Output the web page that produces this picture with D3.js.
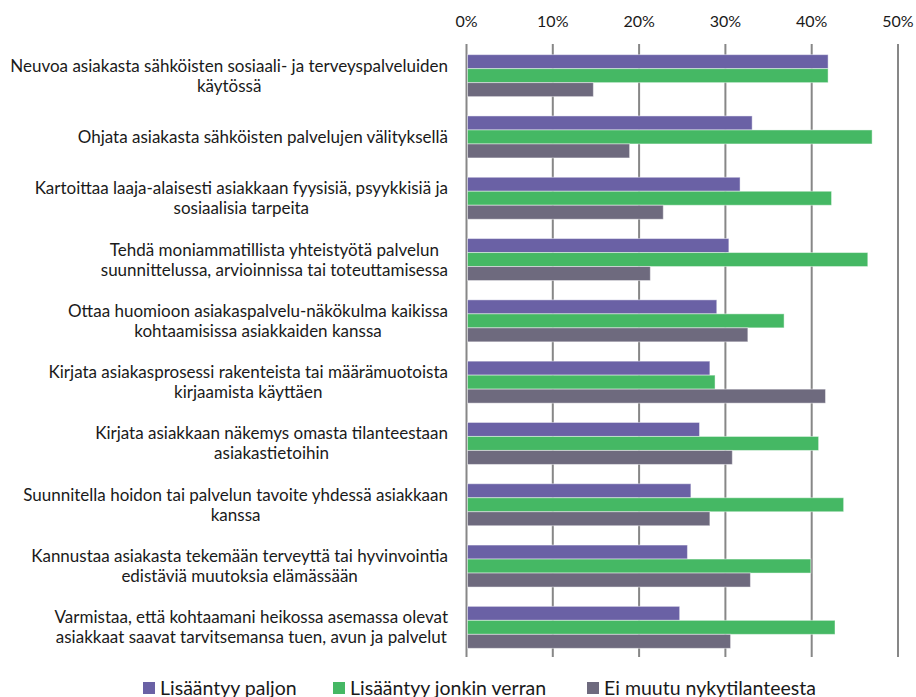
<!DOCTYPE html>
<html>
<head>
<meta charset="utf-8">
<script src="https://cdn.jsdelivr.net/npm/d3@7"></script>
<style>
  body { margin: 0; background: #fff; }
  svg { display: block; }
  text { font-family: Lato, "Open Sans", sans-serif; fill: #1a1a1a; }
</style>
</head>
<body>
<svg id="chart" width="916" height="697"></svg>
<script>
// categories (each entry = label lines)
const categories = [
  ["Neuvoa asiakasta sähköisten sosiaali- ja terveyspalveluiden", "käytössä"],
  ["Ohjata asiakasta sähköisten palvelujen välityksellä"],
  ["Kartoittaa laaja-alaisesti asiakkaan fyysisiä, psyykkisiä ja", "sosiaalisia tarpeita"],
  ["Tehdä moniammatillista yhteistyötä palvelun", "suunnittelussa, arvioinnissa tai toteuttamisessa"],
  ["Ottaa huomioon asiakaspalvelu-näkökulma kaikissa", "kohtaamisissa asiakkaiden kanssa"],
  ["Kirjata asiakasprosessi rakenteista tai määrämuotoista", "kirjaamista käyttäen"],
  ["Kirjata asiakkaan näkemys omasta tilanteestaan", "asiakastietoihin"],
  ["Suunnitella hoidon tai palvelun tavoite yhdessä asiakkaan", "kanssa"],
  ["Kannustaa asiakasta tekemään terveyttä tai hyvinvointia", "edistäviä muutoksia elämässään"],
  ["Varmistaa, että kohtaamani heikossa asemassa olevat", "asiakkaat saavat tarvitsemansa tuen, avun ja palvelut"]
];

const seriesNames = ["Lisääntyy paljon", "Lisääntyy jonkin verran", "Ei muutu nykytilanteesta"];
const seriesColors = ["#6a61a5", "#45b864", "#6e6a7e"];

// values in %
const paljon   = [41.9, 33.1, 31.7, 30.4, 29.0, 28.2, 27.0, 26.0, 25.6, 24.7];
const jonkin   = [41.9, 47.0, 42.3, 46.5, 36.8, 28.8, 40.8, 43.7, 39.9, 42.7];
const eiMuutu  = [14.7, 18.9, 22.8, 21.3, 32.6, 41.6, 30.8, 28.2, 32.9, 30.6];

const xTicks = [0, 10, 20, 30, 40, 50];

const series = [paljon, jonkin, eiMuutu];

const svg = d3.select("#chart");

const x = d3.scaleLinear().domain([0, 50]).range([466.5, 898]);

const y0 = d3.scaleBand()
  .domain(d3.range(categories.length))
  .range([45, 658])
  .paddingInner(0.315)
  .paddingOuter(0.1575);

const y1 = d3.scaleBand()
  .domain(d3.range(series.length))
  .range([0, y0.bandwidth()]);

// gridlines
svg.append("g")
  .selectAll("line")
  .data(xTicks)
  .join("line")
  .attr("x1", d => x(d)).attr("x2", d => x(d))
  .attr("y1", 44).attr("y2", 657)
  .attr("stroke", "#878787")
  .attr("stroke-width", 2);

// top tick labels
svg.append("g")
  .selectAll("text")
  .data(xTicks)
  .join("text")
  .attr("x", d => x(d))
  .attr("y", 27)
  .attr("text-anchor", "middle")
  .style("font-size", "16px")
  .text(d => d + "%");

// bars
const groups = svg.append("g")
  .selectAll("g")
  .data(categories)
  .join("g")
  .attr("transform", (d, i) => `translate(0,${y0(i)})`);

groups.selectAll("rect")
  .data((d, i) => series.map((s, k) => ({ k, v: s[i] })))
  .join("rect")
  .attr("x", x(0) + 1)
  .attr("y", d => y1(d.k))
  .attr("width", d => x(d.v) - x(0) - 1)
  .attr("height", y1.bandwidth())
  .attr("fill", d => seriesColors[d.k])
  .attr("stroke", "rgba(255,255,255,0.45)")
  .attr("stroke-width", 1);

// category labels: block right-aligned, lines centered
const labelRight = 448;
groups.each(function(lines, i) {
  const g = d3.select(this);
  const t = g.append("text")
    .attr("text-anchor", "middle")
    .style("font-size", "17px");
  const spans = t.selectAll("tspan")
    .data(lines)
    .join("tspan")
    .text(d => d);
  let maxW = 0;
  spans.each(function() { maxW = Math.max(maxW, this.getComputedTextLength()); });
  const cx = labelRight - maxW / 2;
  const mid = y0.bandwidth() / 2;
  const lh = 20;
  const top = mid - (lines.length - 1) * lh / 2 + 6;
  spans.attr("x", cx).attr("y", (d, j) => top + j * lh);
});

// legend
const legendX = [143, 333, 587];
const legend = svg.append("g")
  .selectAll("g")
  .data(seriesNames)
  .join("g")
  .attr("transform", (d, i) => `translate(${legendX[i]},682)`);

legend.append("rect")
  .attr("width", 12).attr("height", 12)
  .attr("fill", (d, i) => seriesColors[i]);

legend.append("text")
  .attr("x", 17)
  .attr("y", 12.5)
  .style("font-size", "19.5px")
  .text(d => d);
</script>
</body>
</html>
